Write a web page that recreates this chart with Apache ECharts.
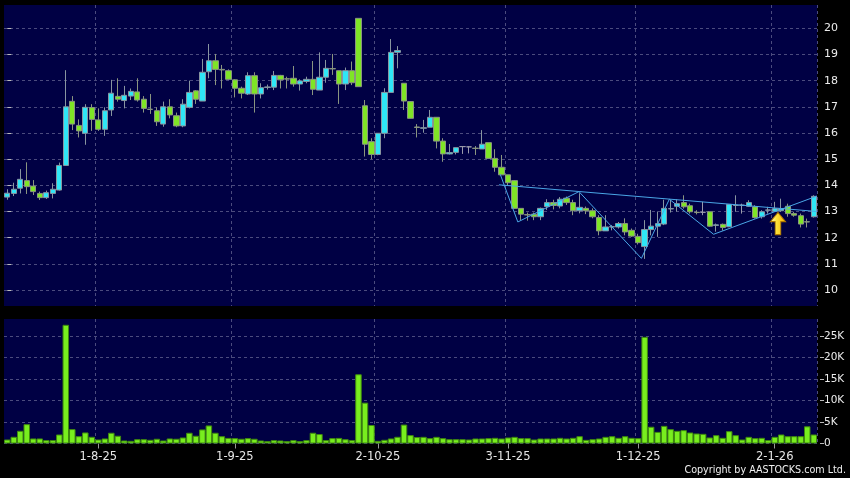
<!DOCTYPE html>
<html><head><meta charset="utf-8">
<script src="https://cdn.jsdelivr.net/npm/echarts@6/dist/echarts.min.js"></script>
<style>html,body{margin:0;padding:0;background:#000;}#c{width:850px;height:478px;}</style>
</head><body><div id="c"></div>
<script>
const dates = [
'14-7-25','15-7-25','16-7-25','17-7-25','18-7-25','21-7-25','22-7-25','23-7-25','24-7-25','25-7-25','28-7-25','29-7-25','30-7-25','31-7-25',
'1-8-25','4-8-25','5-8-25','6-8-25','7-8-25','8-8-25','11-8-25','12-8-25','13-8-25','14-8-25','15-8-25','18-8-25','19-8-25','20-8-25','21-8-25','22-8-25','25-8-25','26-8-25','27-8-25','28-8-25','29-8-25',
'1-9-25','2-9-25','3-9-25','4-9-25','5-9-25','8-9-25','9-9-25','10-9-25','11-9-25','12-9-25','15-9-25','16-9-25','17-9-25','18-9-25','19-9-25','22-9-25','23-9-25','24-9-25','25-9-25','26-9-25','29-9-25','30-9-25',
'2-10-25','3-10-25','6-10-25','8-10-25','9-10-25','10-10-25','13-10-25','14-10-25','15-10-25','16-10-25','17-10-25','20-10-25','21-10-25','22-10-25','23-10-25','24-10-25','27-10-25','28-10-25','30-10-25','31-10-25',
'3-11-25','4-11-25','5-11-25','6-11-25','7-11-25','10-11-25','11-11-25','12-11-25','13-11-25','14-11-25','17-11-25','18-11-25','19-11-25','20-11-25','21-11-25','24-11-25','25-11-25','26-11-25','27-11-25','28-11-25',
'1-12-25','2-12-25','3-12-25','4-12-25','5-12-25','8-12-25','9-12-25','10-12-25','11-12-25','12-12-25','15-12-25','16-12-25','17-12-25','18-12-25','19-12-25','22-12-25','23-12-25','24-12-25','29-12-25','30-12-25','31-12-25',
'2-1-26','5-1-26','6-1-26','7-1-26','8-1-26','9-1-26','12-1-26'];
const tickLabels = ['1-8-25','1-9-25','2-10-25','3-11-25','1-12-25','2-1-26'];

const open = [13.55,13.69,13.89,14.18,13.97,13.69,13.53,13.69,13.82,14.76,
17.21,16.29,15.99,16.97,16.5,16.14,16.88,17.4,17.24,17.41,
17.57,17.29,16.91,16.85,16.34,17.0,16.66,16.27,16.98,17.61,
17.22,18.34,18.76,18.43,18.38,18.03,17.71,17.49,18.19,17.49,
17.74,17.75,18.2,18.07,18.09,17.87,17.97,18.05,17.64,18.13,
18.46,18.38,17.87,18.38,20.38,17.04,15.67,15.18,15.99,17.55,
19.08,17.9,17.2,16.23,16.18,16.22,16.6,15.69,15.2,15.26,
15.48,15.47,15.42,15.39,15.63,15.03,14.69,14.4,14.18,13.12,
12.88,12.9,12.8,13.19,13.34,13.21,13.51,13.34,13.03,13.12,
13.03,12.77,12.26,12.41,12.41,12.54,12.28,12.05,11.66,12.31,
12.44,12.52,13.1,13.2,13.34,13.22,12.97,12.97,12.99,12.47,
12.51,12.42,13.23,13.24,13.2,13.18,12.8,13.05,13.01,13.03,
13.2,12.92,12.84,12.61,12.8];
const close = [13.7,13.85,14.23,13.95,13.76,13.53,13.72,13.85,14.76,17.0,
16.34,16.08,16.98,16.52,16.14,16.85,17.52,17.29,17.44,17.59,
17.26,16.94,16.9,16.43,17.0,16.69,16.27,17.1,17.55,17.29,
18.32,18.76,18.43,18.41,18.05,17.71,17.52,18.19,17.49,17.73,
17.76,18.2,18.03,18.06,17.87,17.99,18.05,17.67,18.13,18.47,
18.45,17.87,18.38,17.92,17.77,15.57,15.18,15.99,17.55,19.08,
19.15,17.22,16.56,16.21,16.2,16.6,15.69,15.2,15.25,15.44,
15.48,15.47,15.41,15.57,15.03,14.69,14.4,14.1,13.12,12.9,
12.87,12.8,13.12,13.34,13.23,13.47,13.34,13.03,13.16,13.03,
12.8,12.26,12.41,12.42,12.54,12.22,12.06,11.81,12.31,12.44,
12.54,13.12,13.11,13.3,13.18,12.99,12.96,12.97,12.44,12.49,
12.39,13.27,13.24,13.24,13.34,12.77,12.99,13.06,13.11,13.11,
12.92,12.86,12.52,12.6,13.58];
const low = [13.45,13.59,13.69,13.67,13.63,13.44,13.48,13.5,13.8,14.75,
16.11,15.83,15.55,16.08,16.08,15.89,16.65,17.2,16.94,17.26,
17.2,16.78,16.73,16.27,16.24,16.56,16.22,16.22,16.94,17.11,
17.22,18.09,17.83,17.7,18.03,17.36,17.32,17.45,16.78,17.32,
17.66,17.64,17.7,17.7,17.77,17.62,17.9,17.45,17.64,17.92,
18.22,17.11,17.64,17.83,17.77,15.1,15.0,15.15,15.8,17.55,
18.47,16.88,16.55,15.83,16.01,16.22,15.41,14.9,15.18,15.18,
15.2,15.22,15.16,15.39,15.03,14.52,14.4,14.0,13.1,12.67,
12.65,12.67,12.67,13.06,13.08,13.12,13.25,12.86,12.93,12.9,
12.74,12.09,12.26,12.28,12.35,12.09,12.03,11.74,11.19,12.09,
12.03,12.48,12.96,13.0,13.11,12.92,12.89,12.86,12.42,12.23,
12.27,12.4,12.99,12.92,13.18,12.73,12.73,12.92,12.99,12.99,
12.8,12.8,12.39,12.39,12.77];
const high = [13.85,14.1,14.62,14.88,14.2,13.76,13.8,14.08,14.87,18.4,
17.41,16.52,17.1,17.1,16.94,16.98,18.03,18.09,17.8,17.7,
18.09,17.41,17.49,16.98,17.2,17.29,16.78,17.29,18.0,17.64,
18.83,19.4,19.02,18.6,18.43,18.05,17.77,18.32,18.32,17.9,
17.85,18.37,18.22,18.15,18.56,18.05,18.15,18.75,19.08,18.79,
19.02,18.38,18.5,18.73,20.38,17.26,15.8,15.99,17.71,19.59,
19.32,17.9,17.22,16.34,16.5,16.88,16.6,15.8,15.58,15.44,
15.48,15.5,15.5,16.11,15.63,15.38,15.16,14.4,14.2,13.12,
12.96,12.96,13.15,13.47,13.45,13.55,13.57,13.45,13.7,13.19,
13.12,12.86,12.86,12.48,12.6,12.74,12.35,12.15,12.67,13.06,
13.0,13.45,13.45,13.46,13.62,13.3,13.05,13.37,12.99,12.54,
12.54,13.27,13.62,13.3,13.43,13.24,13.05,13.18,13.37,13.49,
13.3,12.99,12.92,12.73,13.62];
const volume = [930,1560,2960,4500,1170,1170,780,780,2100,27600,
3350,1700,2570,1560,930,1170,2500,1800,700,620,
1000,1000,860,1100,700,1170,1100,1400,2500,1800,
3270,4200,2500,1700,1300,1250,1100,1250,1100,700,
550,780,700,550,780,550,780,2500,2200,780,
1250,1300,1000,780,16100,9500,4300,620,860,1170,
1560,4400,1950,1500,1550,1240,1550,1240,1000,1000,
1000,930,1160,1160,1240,1320,1160,1400,1550,1240,
1240,930,1160,1160,1160,1320,1160,1320,1700,850,
1000,1160,1550,1700,1320,1700,1320,1240,24800,3900,
2700,4100,3340,2950,3100,2560,2330,2250,1400,1940,
1320,2870,1940,930,1550,1240,1320,780,1550,2100,
1700,1700,1700,4000,2100];
const priceTicks = [10,11,12,13,14,15,16,17,18,19,20];
const volTicks = [0,5000,10000,15000,20000,25000];
// trend lines: [candle position, price]
const neckline = [[75.6,14.02],[124.5,13.0]];
const zigzag = [[75.8,14.42],[78.5,12.6],[87.9,13.76],[97.5,11.21],[101.8,13.47],[108.6,12.13],[124.5,13.59]];
const arrowPoint = [[118.5,12.54]];

const candleData = open.map((o,i)=>[o, close[i], low[i], high[i]]);
const isTick = (i)=>tickLabels.indexOf(dates[i])>=0;
const gridLine = {show:true, interval:(i)=>isTick(i), lineStyle:{color:'#4b4b7e', type:[3,3], width:1}};
const FONT = 'DejaVu Sans';

const chart = echarts.init(document.getElementById('c'));
chart.setOption({
  backgroundColor:'#000000',
  animation:false,
  grid:[
    {left:4, right:33, top:5, height:301, show:true, backgroundColor:'#000044', borderWidth:0},
    {left:4, right:33, top:319, height:124.5, show:true, backgroundColor:'#000044', borderWidth:0}
  ],
  xAxis:[
    {type:'category', gridIndex:0, data:dates, boundaryGap:true, axisLine:{show:false}, axisTick:{show:false}, axisLabel:{show:false}, splitLine:gridLine},
    {type:'category', gridIndex:1, data:dates, boundaryGap:true, axisLine:{show:false},
      axisTick:{show:true, alignWithLabel:true, interval:(i)=>isTick(i), length:5, lineStyle:{color:'#999999'}},
      axisLabel:{show:true, interval:(i)=>isTick(i), color:'#e6e6e6', fontFamily:FONT, fontSize:11.5, margin:8},
      splitLine:gridLine},
    {type:'value', gridIndex:0, min:-0.5, max:124.5, show:false}
  ],
  yAxis:[
    {type:'value', gridIndex:0, position:'right', min:9.39, max:20.89, offset:3, scale:true,
      axisLine:{show:false},
      axisTick:{show:true, length:4, customValues:priceTicks, lineStyle:{color:'#bbbbbb'}},
      axisLabel:{customValues:priceTicks, color:'#ececec', fontFamily:FONT, fontSize:11, margin:4},
      splitLine:{show:true, lineStyle:{color:'#4b4b7e', type:[3,3], width:1}}},
    {type:'value', gridIndex:1, position:'right', min:0, max:28950, offset:3,
      axisLine:{show:false},
      axisTick:{show:true, length:4, customValues:volTicks, lineStyle:{color:'#bbbbbb'}},
      axisLabel:{customValues:volTicks, color:'#ececec', fontFamily:FONT, fontSize:10.5, margin:4,
        formatter:(v)=> v===0 ? '0' : (v/1000)+'K'},
      splitLine:{show:true, lineStyle:{color:'#4b4b7e', type:[3,3], width:1}}}
  ],
  series:[
    {type:'candlestick', xAxisIndex:0, yAxisIndex:0, data:candleData, barWidth:5.8,
      itemStyle:{color:'#2fe6f6', color0:'#7fe526', borderColor:'#8895a0', borderColor0:'#8a9580', borderColorDoji:'#9a9aaa', borderWidth:1}},
    {type:'line', xAxisIndex:2, yAxisIndex:0, data:neckline, symbol:'none', lineStyle:{color:'#4aa6e6', width:1}},
    {type:'line', xAxisIndex:2, yAxisIndex:0, data:zigzag, symbol:'none', lineStyle:{color:'#4aa6e6', width:1}},
    {type:'scatter', xAxisIndex:2, yAxisIndex:0, data:arrowPoint, symbol:'path://M8,0 L16,9 L11,9 L11,22 L5,22 L5,9 L0,9 Z', symbolSize:[15,22], z:5,
      itemStyle:{opacity:1, color:new echarts.graphic.LinearGradient(0,0,1,0,[{offset:0,color:'#fffbc0'},{offset:0.4,color:'#ffe23a'},{offset:1,color:'#f5b000'}]), borderColor:'#b07800', borderWidth:1}},
    {type:'bar', xAxisIndex:1, yAxisIndex:1, data:volume, barCategoryGap:'0%',
      itemStyle:{color:'#78ee1e', borderColor:'#3f8a0e', borderWidth:1}}
  ],
  graphic:[
    {type:'text', right:4, top:465, style:{text:'Copyright by AASTOCKS.com Ltd.', fill:'#f0f0f0', font:'9.6px "DejaVu Sans"'}}
  ]
});
</script></body></html>
